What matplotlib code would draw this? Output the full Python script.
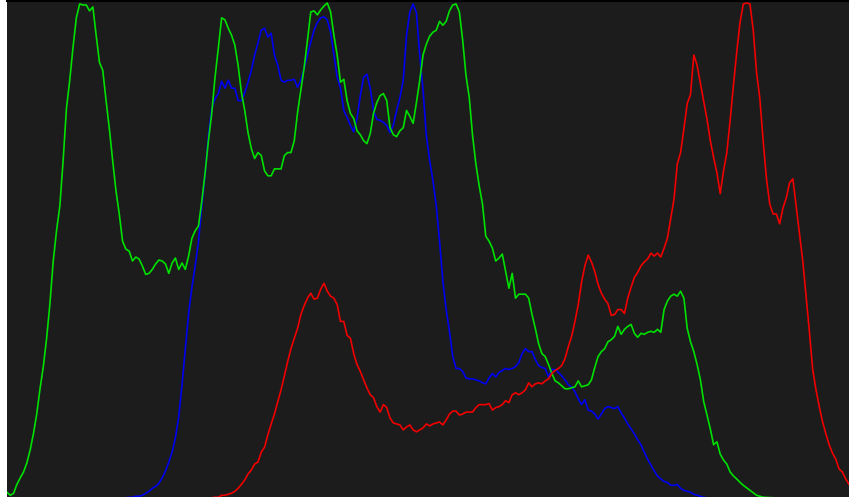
import matplotlib
matplotlib.use("Agg")
import matplotlib.pyplot as plt

# intensity histogram, each channel as percent of its own peak
green_bins = list(range(0, 224)) + [225, 227, 229, 232, 240, 255]
green_vals = [
    1.2, 0.6, 1.0, 2.8, 4.1, 5.3, 7.1, 9.7, 13.0, 17.0,
    22.1, 26.6, 32.3, 39.3, 47.9, 54.0, 59.0, 68.2, 78.7, 84.4,
    91.1, 97.0, 99.8, 99.6, 99.6, 98.4, 99.2, 93.5, 88.0, 86.4,
    80.3, 74.6, 68.2, 62.1, 57.4, 51.9, 50.3, 49.9, 47.9, 48.7,
    48.3, 46.9, 45.2, 45.4, 46.2, 47.3, 48.1, 47.9, 47.3, 45.4,
    47.5, 48.5, 46.2, 47.5, 46.2, 48.9, 52.5, 54.0, 55.0, 60.0,
    65.7, 72.2, 77.7, 85.0, 90.9, 97.0, 96.6, 94.9, 93.5, 91.5,
    87.4, 81.9, 78.3, 73.8, 70.6, 68.6, 69.8, 69.2, 66.1, 65.1,
    65.1, 66.5, 66.5, 66.5, 69.2, 69.8, 69.8, 72.2, 77.9, 82.4,
    87.0, 92.5, 98.2, 98.4, 97.6, 98.6, 99.4, 100.0, 98.2, 93.5,
    89.5, 84.0, 84.6, 80.3, 77.7, 76.7, 74.2, 73.4, 72.2, 71.6,
    73.6, 77.7, 79.9, 81.3, 81.7, 80.3, 74.8, 73.4, 73.0, 74.2,
    74.8, 78.3, 77.1, 75.7, 79.9, 84.4, 89.5, 91.7, 93.3, 94.1,
    94.5, 96.3, 95.5, 96.3, 98.4, 99.6, 99.8, 98.2, 92.5, 85.4,
    80.9, 73.2, 67.5, 63.1, 59.4, 52.9, 51.9, 50.5, 47.9, 48.5,
    49.3, 45.8, 42.4, 45.4, 40.4, 41.2, 41.2, 41.2, 40.4, 37.1,
    34.3, 31.2, 29.2, 28.6, 27.0, 25.2, 23.7, 23.3, 22.7, 22.1,
    22.1, 22.3, 22.5, 23.7, 22.5, 22.7, 22.9, 23.9, 26.4, 28.6,
    29.6, 30.2, 31.6, 32.0, 32.7, 34.7, 33.1, 34.1, 34.7, 35.1,
    33.3, 32.5, 33.3, 33.1, 33.5, 33.7, 33.5, 34.1, 33.5, 38.1,
    39.8, 40.8, 41.2, 40.8, 41.8, 40.4, 34.3, 31.6, 29.6, 27.0,
    23.9, 19.5, 16.8, 14.0, 10.8, 11.4, 8.9, 7.7, 6.9, 5.3,
    4.5, 3.9, 3.2, 2.6, 1.6, 0.6, 0.2, 0.1, 0.0, 0.0,
]

blue_bins = [0, 35] + list(range(37, 210)) + [211, 213, 255]
blue_vals = [
    0.0, 0.0, 0.2, 0.2, 0.4, 0.4, 0.6, 1.0, 1.4, 2.0,
    2.4, 3.0, 4.1, 5.5, 7.3, 9.3, 12.2, 16.4, 22.9, 30.0,
    37.3, 42.6, 46.9, 51.9, 59.0, 65.5, 73.2, 78.7, 80.7, 81.7,
    84.2, 82.8, 84.4, 82.8, 82.8, 80.3, 80.3, 81.9, 84.0, 86.4,
    89.5, 91.9, 94.5, 94.9, 93.1, 93.9, 89.5, 87.4, 84.4, 84.0,
    84.4, 84.4, 84.6, 83.0, 84.4, 86.8, 89.5, 92.1, 94.5, 96.1,
    97.0, 97.2, 96.6, 94.1, 89.5, 85.0, 82.8, 78.3, 76.9, 75.3,
    74.0, 76.7, 81.3, 85.0, 85.6, 82.8, 78.3, 76.5, 76.3, 75.9,
    75.3, 73.8, 75.3, 78.3, 80.9, 84.4, 93.5, 98.2, 99.8, 98.0,
    89.5, 82.4, 73.2, 68.2, 64.1, 59.0, 51.9, 43.8, 38.1, 33.7,
    28.6, 26.2, 26.2, 25.6, 24.3, 24.1, 24.1, 23.9, 23.7, 23.3,
    23.1, 24.3, 25.2, 24.5, 25.4, 25.8, 26.2, 26.0, 26.2, 26.6,
    27.4, 29.2, 30.2, 29.6, 29.6, 28.0, 26.8, 26.4, 26.2, 24.5,
    26.0, 26.0, 25.4, 24.7, 23.9, 22.9, 22.5, 21.5, 20.1, 18.9,
    19.9, 17.8, 17.6, 17.0, 16.0, 17.0, 18.1, 18.5, 18.3, 18.1,
    18.5, 17.2, 16.2, 15.0, 14.0, 13.0, 11.8, 10.8, 9.3, 7.9,
    6.7, 5.5, 4.5, 3.9, 3.4, 3.2, 2.6, 2.6, 2.8, 2.0,
    1.6, 1.4, 1.2, 0.8, 0.6, 0.2, 0.0, 0.0,
]

red_bins = [0, 60, 62] + list(range(63, 256))
red_vals = [
    0.0, 0.0, 0.1, 0.2, 0.2, 0.6, 0.6, 0.8, 1.0, 1.4,
    2.0, 2.8, 3.7, 4.9, 5.7, 6.9, 7.3, 9.3, 10.3, 12.8,
    15.0, 17.0, 19.5, 21.9, 24.7, 27.6, 30.2, 32.3, 34.3, 37.1,
    38.9, 40.4, 41.4, 40.2, 40.4, 42.2, 43.4, 41.8, 40.8, 40.4,
    39.1, 35.7, 35.7, 32.9, 32.3, 29.2, 27.0, 25.6, 23.9, 22.3,
    20.9, 20.3, 18.5, 17.4, 18.9, 18.3, 16.2, 15.2, 15.0, 14.8,
    13.8, 14.4, 14.8, 13.8, 13.4, 13.8, 14.2, 15.0, 14.6, 15.0,
    15.2, 15.4, 14.8, 15.8, 17.0, 17.6, 17.6, 16.8, 17.0, 17.4,
    17.4, 17.4, 18.3, 18.9, 18.9, 18.9, 19.1, 17.8, 18.3, 18.5,
    18.9, 19.7, 19.3, 20.9, 21.3, 20.9, 21.3, 21.9, 23.3, 22.5,
    23.1, 23.3, 23.1, 23.7, 24.1, 25.2, 25.8, 26.2, 26.8, 28.2,
    30.6, 32.7, 35.7, 39.1, 43.6, 46.9, 49.1, 47.7, 45.8, 43.2,
    41.4, 40.2, 39.3, 36.9, 37.1, 38.1, 38.1, 37.3, 40.4, 42.6,
    44.6, 45.6, 46.9, 47.7, 48.3, 49.5, 48.9, 49.5, 48.7, 50.5,
    52.5, 56.4, 60.4, 67.5, 69.8, 74.6, 79.7, 81.5, 89.5, 87.4,
    83.8, 80.3, 76.5, 72.2, 68.8, 65.7, 61.5, 66.1, 69.8, 76.3,
    83.4, 90.1, 96.1, 99.8, 100.0, 99.8, 94.5, 86.0, 80.7, 72.2,
    64.5, 59.4, 57.4, 57.4, 55.4, 58.6, 60.6, 63.7, 64.5, 59.0,
    53.5, 47.9, 40.8, 33.7, 26.0, 21.9, 18.5, 15.4, 13.0, 10.8,
    9.1, 7.9, 5.9, 5.3, 3.9, 2.8,
]

fig = plt.figure(figsize=(8.49, 4.97), dpi=100, facecolor="white")
ax = fig.add_axes([7 / 849, 0, 842 / 849, 496 / 497])
ax.set_facecolor("#1c1c1c")

ax.plot(blue_bins, blue_vals, color="#0000f0", lw=1.2)
ax.plot(green_bins, green_vals, color="#00e000", lw=1.2)
ax.plot(red_bins, red_vals, color="#f00000", lw=1.2)

# zero sits just below the bottom edge, so empty bins are clipped away
ax.set_xlim(0, 255)
ax.set_ylim(0.25, 100.4)
ax.set_xticks([])
ax.set_yticks([])
for side in ["left", "right", "bottom"]:
    ax.spines[side].set_visible(False)
ax.spines["top"].set_color("black")
ax.spines["top"].set_linewidth(1.5)

fig.savefig("out.png", dpi=100)
